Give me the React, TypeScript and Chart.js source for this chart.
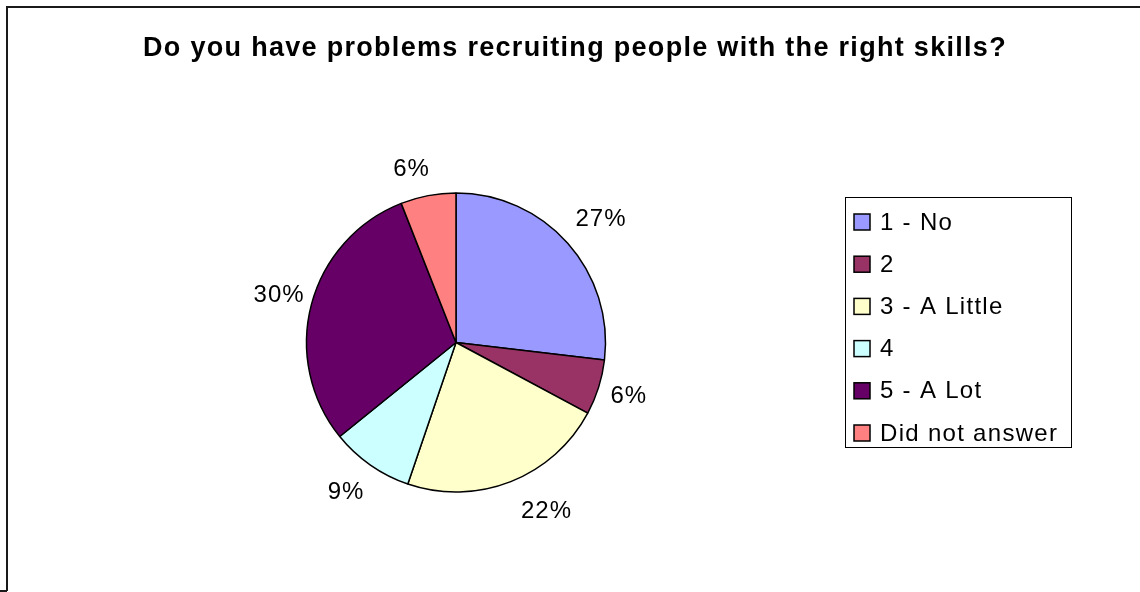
import React, { useEffect, useRef } from "react";
import { Chart, registerables } from "chart.js";

Chart.register(...registerables);

const TITLE = "Do you have problems recruiting people with the right skills?";
const CATEGORIES = ["1 - No", "2", "3 - A Little", "4", "5 - A Lot", "Did not answer"];
const RESPONSES = [18, 4, 15, 6, 20, 4];
const COLORS = ["#9999FF", "#993366", "#FFFFCC", "#CCFFFF", "#660066", "#FF8080"];

const FONT = "'Liberation Sans', Arial, sans-serif";

const decorPlugin = {
  id: "excelDecor",
  beforeDraw(chart: any) {
    const ctx = chart.ctx;
    const W = chart.width;
    const H = chart.height;
    ctx.save();
    ctx.fillStyle = "#ffffff";
    ctx.fillRect(0, 0, W, H);
    // chart frame
    ctx.strokeStyle = "#1a1a1a";
    ctx.lineWidth = 2;
    ctx.beginPath();
    ctx.moveTo(7, 591);
    ctx.lineTo(7, 7);
    ctx.lineTo(W + 2, 7);
    ctx.stroke();
    ctx.beginPath();
    ctx.moveTo(0, 591);
    ctx.lineTo(7, 591);
    ctx.stroke();
    // title
    ctx.fillStyle = "#000000";
    ctx.font = `bold 27px ${FONT}`;
    (ctx as any).letterSpacing = "1.3px";
    ctx.textAlign = "center";
    ctx.textBaseline = "alphabetic";
    ctx.fillText(TITLE, 575, 56);
    // legend
    const opts = chart.options.plugins.excelDecor;
    const lg = opts.legend;
    ctx.lineWidth = 1;
    ctx.strokeStyle = "#000000";
    ctx.strokeRect(lg.x + 0.5, lg.y + 0.5, lg.w, lg.h);
    const ds = chart.data.datasets[0];
    ctx.font = `24px ${FONT}`;
    (ctx as any).letterSpacing = "1.3px";
    ctx.textAlign = "left";
    ctx.textBaseline = "middle";
    chart.data.labels.forEach((lab: string, i: number) => {
      const cy = lg.rowStart + i * lg.rowGap;
      ctx.fillStyle = ds.backgroundColor[i];
      ctx.fillRect(lg.x + 9, cy - 8, 16, 16);
      ctx.lineWidth = 1.5;
      ctx.strokeStyle = "#000000";
      ctx.strokeRect(lg.x + 9, cy - 8, 16, 16);
      ctx.fillStyle = "#000000";
      ctx.fillText(lab, lg.x + 35, cy + 1);
    });
    ctx.restore();
  },
  afterDatasetsDraw(chart: any) {
    const ctx = chart.ctx;
    const opts = chart.options.plugins.excelDecor;
    const meta = chart.getDatasetMeta(0);
    const data = chart.data.datasets[0].data as number[];
    const total = data.reduce((a, b) => a + b, 0);
    ctx.save();
    ctx.fillStyle = "#000000";
    ctx.font = `24px ${FONT}`;
    (ctx as any).letterSpacing = "1px";
    ctx.textAlign = "center";
    ctx.textBaseline = "middle";
    meta.data.forEach((el: any, i: number) => {
      const p = el.getProps(["x", "y", "startAngle", "endAngle", "outerRadius"], true);
      const mid = (p.startAngle + p.endAngle) / 2 + (opts.angleNudge[i] * Math.PI) / 180;
      const r = p.outerRadius + opts.labelGap[i];
      const x = p.x + r * Math.cos(mid);
      const y = p.y + r * Math.sin(mid);
      const pct = Math.round((data[i] / total) * 100) + "%";
      ctx.fillText(pct, x, y);
    });
    ctx.restore();
  },
};

export default function App() {
  const ref = useRef<HTMLCanvasElement | null>(null);
  useEffect(() => {
    document.body.style.margin = "0";
    if (!ref.current) return;
    const chart = new Chart(ref.current, {
      type: "pie",
      data: {
        labels: CATEGORIES,
        datasets: [
          {
            data: RESPONSES,
            backgroundColor: COLORS,
            borderColor: "#000000",
            borderWidth: 1.5,
          },
        ],
      },
      options: {
        responsive: false,
        animation: false,
        devicePixelRatio: 1,
        radius: 149.5,
        layout: { padding: { left: 306, right: 534, top: 193, bottom: 100 } },
        plugins: {
          legend: { display: false },
          title: { display: false },
          tooltip: { enabled: false },
          excelDecor: {
            legend: { x: 845, y: 197, w: 226, h: 250, rowStart: 222, rowGap: 42.2 },
            angleNudge: [1.4, -0.2, -6.7, 1.4, 0, -3.7],
            labelGap: [40.5, 31.5, 42, 36, 33.5, 29],
          },
        } as any,
      } as any,
      plugins: [decorPlugin],
    });
    return () => chart.destroy();
  }, []);
  return (
    <canvas
      ref={ref}
      width={1140}
      height={592}
      style={{ display: "block", width: 1140, height: 592 }}
    />
  );
}
